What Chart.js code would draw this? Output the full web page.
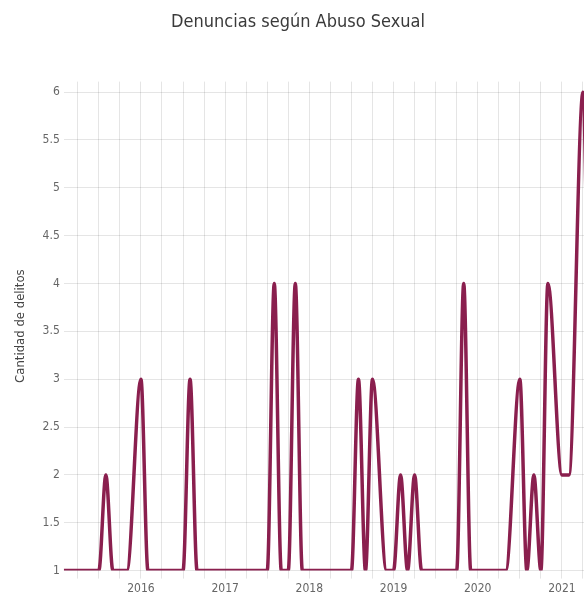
<!DOCTYPE html>
<html>
<head>
<meta charset="utf-8">
<script src="https://cdn.jsdelivr.net/npm/chart.js@4.4.1/dist/chart.umd.min.js"></script>
<style>
  html, body { margin: 0; padding: 0; overflow: hidden; background: #fff; }
  #wrap { width: 600px; height: 599px; position: relative; }
</style>
</head>
<body>
<div id="wrap"><canvas id="abusoChart"></canvas></div>
<script>
// meses con registro (los meses sin denuncias no aparecen)
const meses = [
  '2015-02', '2015-03', '2015-04', '2015-05', '2015-06', '2015-07', '2015-08', '2015-09', '2015-10', '2015-11',
  '2016-01', '2016-02', '2016-03', '2016-04', '2016-05', '2016-06', '2016-07', '2016-08', '2016-09', '2016-10', '2016-11', '2016-12',
  '2017-01', '2017-02', '2017-03', '2017-04', '2017-05', '2017-06', '2017-07', '2017-08', '2017-09', '2017-10', '2017-11', '2017-12',
  '2018-01', '2018-02', '2018-03', '2018-04', '2018-05', '2018-06', '2018-07', '2018-08', '2018-09', '2018-10', '2018-12',
  '2019-01', '2019-02', '2019-03', '2019-04', '2019-05', '2019-06', '2019-07', '2019-08', '2019-09', '2019-10', '2019-11', '2019-12',
  '2020-01', '2020-02', '2020-03', '2020-04', '2020-05', '2020-07', '2020-08', '2020-09', '2020-10', '2020-11',
  '2021-01', '2021-02', '2021-04', '2021-05'
];
const denuncias = [
  1, 1, 1, 1, 1, 1, 2, 1, 1, 1,
  3, 1, 1, 1, 1, 1, 1, 3, 1, 1, 1, 1,
  1, 1, 1, 1, 1, 1, 1, 4, 1, 1, 4, 1,
  1, 1, 1, 1, 1, 1, 1, 3, 1, 3, 1,
  1, 2, 1, 2, 1, 1, 1, 1, 1, 1, 4, 1,
  1, 1, 1, 1, 1, 3, 1, 2, 1, 4,
  2, 2, 6, 2
];
const yTicks = [1, 1.5, 2, 2.5, 3, 3.5, 4, 4.5, 5, 5.5, 6];

const toYear = m => parseInt(m.slice(0, 4)) + (parseInt(m.slice(5, 7)) - 1) / 12;
const puntos = meses.map((m, i) => ({ x: toYear(m), y: denuncias[i] }));

const fuente = "'DejaVu Sans Condensed', 'DejaVu Sans', sans-serif";

const ctx = document.getElementById('abusoChart');
const myChart = new Chart(ctx, {
    type: 'line',
    data: {
        datasets: [{
            data: puntos,
            borderColor: '#8a1f4e',
            borderWidth: 3.5,
            cubicInterpolationMode: 'monotone',
            pointRadius: 0,
            fill: false
        }]
    },
    options: {
        responsive: true,
        maintainAspectRatio: false,
        animation: false,
        layout: {
            padding: { left: 6, right: 10, top: 0, bottom: 0 }
        },
        plugins: {
            legend: { display: false },
            tooltip: { enabled: false },
            title: {
                display: true,
                text: 'Denuncias según Abuso Sexual',
                color: '#3a3a3a',
                font: { family: fuente, size: 18, weight: 'normal' },
                padding: { top: 12, bottom: 48 }
            }
        },
        scales: {
            x: {
                type: 'linear',
                min: puntos[0].x,
                max: puntos[puntos.length - 1].x,
                border: { display: false },
                grid: { color: 'rgba(0,0,0,0.1)', tickLength: 8 },
                // una línea por trimestre, etiqueta solo en los años
                afterBuildTicks: scale => {
                    const ticks = [];
                    for (let q = Math.ceil(scale.min * 4); q <= Math.floor(scale.max * 4 + 1e-6); q++) {
                        ticks.push({ value: q / 4 });
                    }
                    scale.ticks = ticks;
                },
                ticks: {
                    autoSkip: false,
                    maxRotation: 0,
                    padding: 3,
                    color: '#666',
                    font: { family: fuente, size: 12 },
                    callback: v => Number.isInteger(v) ? String(v) : ''
                }
            },
            y: {
                min: 1,
                max: 6.11,
                border: { display: false },
                grid: { color: 'rgba(0,0,0,0.1)', drawTicks: false },
                afterBuildTicks: scale => {
                    scale.ticks = yTicks.map(v => ({ value: v }));
                },
                title: {
                    display: true,
                    text: 'Cantidad de delitos',
                    color: '#444',
                    font: { family: fuente, size: 13 },
                    padding: { top: 7, bottom: 10 }
                },
                ticks: {
                    padding: 4,
                    color: '#666',
                    font: { family: fuente, size: 12 },
                    callback: v => String(v)
                }
            }
        }
    }
});
</script>
</body>
</html>
